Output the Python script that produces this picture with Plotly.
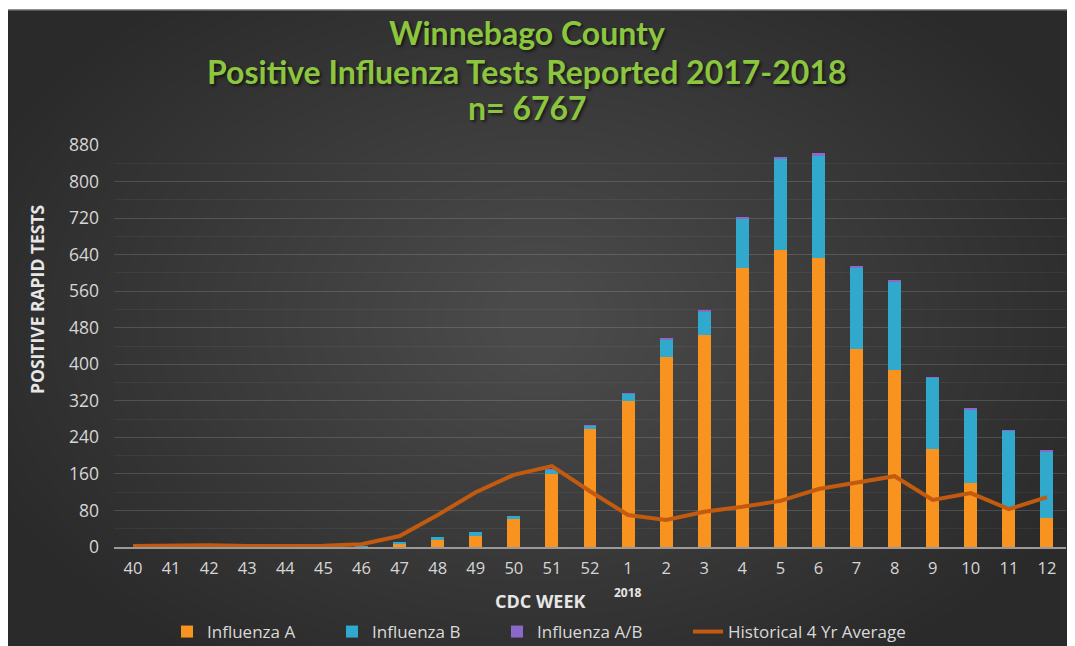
import plotly.graph_objects as go

weeks = ['40', '41', '42', '43', '44', '45', '46', '47', '48', '49', '50', '51', '52',
         '1', '2', '3', '4', '5', '6', '7', '8', '9', '10', '11', '12']
flu_a = [0, 0, 0, 0, 0, 0, 1, 8, 16, 24, 61, 160, 258, 320, 416, 464, 611, 650, 633, 433, 387, 214, 140, 83, 63]
flu_b = [0, 0, 0, 0, 0, 0, 1, 2, 6, 9, 7, 9, 8, 16, 39, 51, 108, 200, 225, 179, 194, 156, 162, 171, 147]
flu_ab = [0, 0, 0, 0, 0, 0, 0, 0, 0, 0, 0, 1, 1, 1, 2, 2, 3, 4, 4, 3, 3, 2, 2, 2, 2]
hist_avg = [2, 3, 4, 2, 2, 3, 6, 24, 70, 120, 158, 177, 122, 70, 59, 77, 88, 101, 127, 140, 155, 103, 118, 83, 109]
y_ticks = [0, 80, 160, 240, 320, 400, 480, 560, 640, 720, 800, 880]

OFF = 8  # page body margin
W, H = 1075 - OFF, 646 - OFF
# plot area in screen pixels: x 114..1066, y 145..547
L, R, T, B = 114 - OFF, 1075 - 1066, 145 - OFF, 646 - 547
PW, PH = W - L - R, H - T - B


def px(x):
    return (x - OFF - L) / PW


def py(y):
    return (H + OFF - B - y) / PH


fig = go.Figure()
fig.add_trace(go.Bar(x=weeks, y=flu_a, name='Influenza A', marker=dict(color='#f7931e', line=dict(width=0))))
fig.add_trace(go.Bar(x=weeks, y=flu_b, name='Influenza B', marker=dict(color='#30a9cc', line=dict(width=0))))
fig.add_trace(go.Bar(x=weeks, y=flu_ab, name='Influenza A/B', marker=dict(color='#8c68c9', line=dict(width=0))))
fig.add_trace(go.Scatter(x=weeks, y=hist_avg, name='Historical 4 Yr Average', mode='lines',
                         line=dict(color='#c25a10', width=4), legend='legend2'))

shapes = [dict(type='rect', xref='paper', yref='paper', layer='below',
               x0=px(5), x1=px(1080), y0=py(651), y1=py(10),
               fillcolor='#2a2a2a', line=dict(color='#6a6a6a', width=1.5))]
# soft radial lightening toward the centre
N = 32
for i in range(N):
    rx = 600 - i * 18
    ry = 400 - i * 11.5
    cx, cy = 540, 320
    shapes.append(dict(type='circle', xref='paper', yref='paper', layer='below',
                       x0=px(cx - rx), x1=px(cx + rx), y0=py(cy + ry), y1=py(cy - ry),
                       fillcolor='rgba(255,255,255,0.0068)', line=dict(width=0)))

title_font = dict(family='Lato', size=32, color='#8cc63f', shadow='2px 2px 3px rgba(0,0,0,0.55)')
annotations = [
    dict(text='<b>Winnebago County</b>', x=px(527), y=py(33), xref='paper', yref='paper', xanchor='center',
         showarrow=False, font=title_font, yanchor='middle'),
    dict(text='<b>Positive Influenza Tests Reported 2017-2018</b>', x=px(527), y=py(71), xref='paper',
         yref='paper', xanchor='center', showarrow=False, font=title_font, yanchor='middle'),
    dict(text='<b>n= 6767</b>', x=px(527), y=py(108), xref='paper', yref='paper', xanchor='center',
         showarrow=False, font=title_font, yanchor='middle'),
    dict(text='<b>POSITIVE RAPID TESTS</b>', x=px(37), y=py(300), xref='paper', yref='paper',
         xanchor='center', yanchor='middle',
         showarrow=False, textangle=-90, font=dict(family='Open Sans', size=17.5, color='#e6e6e6')),
    dict(text='<b>CDC WEEK</b>', x=px(540), y=py(601), xref='paper', yref='paper',
         xanchor='center', yanchor='middle',
         showarrow=False, font=dict(family='Open Sans', size=18, color='#e6e6e6')),
    dict(text='<b>2018</b>', x=13, y=py(592), xref='x', yref='paper', xanchor='center', yanchor='middle',
         showarrow=False, font=dict(family='Open Sans', size=12, color='#e6e6e6')),
]

legend_font = dict(family='Open Sans', size=17, color='#d9d9d9')
fig.update_layout(
    width=W, height=H,
    margin=dict(l=L, r=R, t=T, b=B, autoexpand=False),
    paper_bgcolor='white',
    plot_bgcolor='rgba(0,0,0,0)',
    barmode='stack',
    bargap=0.66,
    shapes=shapes,
    annotations=annotations,
    showlegend=True,
    legend=dict(orientation='h', x=px(167), xanchor='left', y=py(632), yanchor='middle',
                font=legend_font, bgcolor='rgba(0,0,0,0)', traceorder='normal',
                entrywidth=120, entrywidthmode='pixels'),
    legend2=dict(orientation='h', x=px(688), xanchor='left', y=py(632), yanchor='middle',
                 font=legend_font, bgcolor='rgba(0,0,0,0)'),
    xaxis=dict(type='category', showgrid=False, showline=True, linecolor='#9a9a9a', linewidth=2,
               automargin=False, ticklabelstandoff=5,
               ticks='', tickfont=dict(family='Open Sans', size=16.5, color='#d6d6d6')),
    yaxis=dict(range=[0, 880], tickvals=y_ticks, showline=False, zeroline=False, automargin=False,
               gridcolor='rgba(255,255,255,0.10)', gridwidth=1,
               minor=dict(dtick=40, showgrid=True, gridcolor='rgba(255,255,255,0.05)'),
               tickfont=dict(family='Open Sans', size=17.5, color='#d6d6d6'), ticklabelstandoff=14),
)

fig.write_html('out.html')
